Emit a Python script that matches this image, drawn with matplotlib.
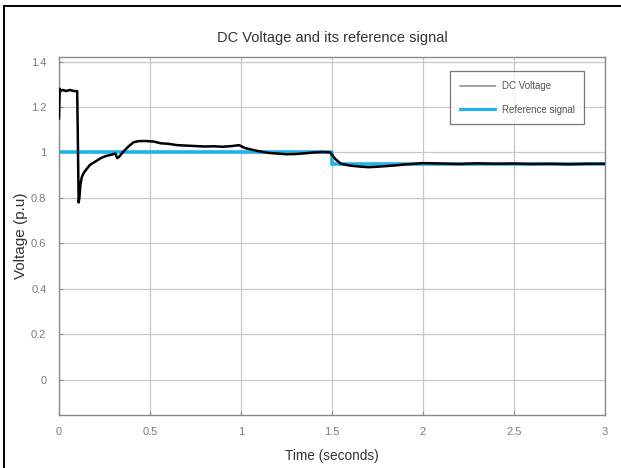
import matplotlib
matplotlib.use("Agg")
import matplotlib.pyplot as plt
from matplotlib.lines import Line2D

# DC link voltage (p.u.) versus time (s)
t_dc = [0.0, 0.004, 0.008, 0.02, 0.04, 0.06, 0.08, 0.1, 0.103, 0.108, 0.112,
        0.118, 0.125, 0.13, 0.14, 0.15, 0.17, 0.2, 0.23, 0.26, 0.29, 0.31,
        0.32, 0.33, 0.35, 0.38, 0.41, 0.44, 0.48, 0.52, 0.56, 0.6, 0.65,
        0.7, 0.75, 0.8, 0.85, 0.9, 0.95, 0.99, 1.02, 1.06, 1.1, 1.15, 1.2,
        1.25, 1.3, 1.35, 1.4, 1.45, 1.49, 1.5, 1.505, 1.52, 1.55, 1.6,
        1.65, 1.7, 1.75, 1.8, 1.85, 1.9, 1.95, 2.0, 2.1, 2.2, 2.3, 2.4,
        2.5, 2.6, 2.7, 2.8, 2.9, 3.0]
v_dc = [1.15, 1.28, 1.27, 1.275, 1.27, 1.275, 1.27, 1.27, 1.1, 0.78, 0.80,
        0.86, 0.89, 0.90, 0.915, 0.925, 0.945, 0.96, 0.975, 0.985, 0.99, 0.995,
        0.975, 0.98, 1.0, 1.025, 1.045, 1.05, 1.05, 1.048, 1.04, 1.038, 1.032,
        1.03, 1.028, 1.026, 1.027, 1.025, 1.028, 1.032, 1.02, 1.012, 1.005, 0.998, 0.995,
        0.992, 0.993, 0.996, 1.0, 1.002, 1.0, 0.99, 0.985, 0.97, 0.95, 0.942,
        0.938, 0.935, 0.937, 0.94, 0.943, 0.947, 0.95, 0.953, 0.951, 0.949, 0.952, 0.95,
        0.951, 0.949, 0.95, 0.948, 0.95, 0.95]

# Reference signal (p.u.)
t_ref = [0.0, 1.5, 1.5, 3.0]
v_ref = [1.0, 1.0, 0.95, 0.95]

x_ticks = [0, 0.5, 1, 1.5, 2, 2.5, 3]
x_tick_labels = ["0", "0.5", "1", "1.5", "2", "2.5", "3"]
y_ticks = [0, 0.2, 0.4, 0.6, 0.8, 1.0, 1.2, 1.4]
y_tick_labels = ["0", "0.2", "0.4", "0.6", "0.8", "1", "1.2", "1.4"]

plt.rcParams["font.family"] = ["Liberation Sans", "DejaVu Sans"]

fig = plt.figure(figsize=(6.21, 4.68), dpi=100)
ax = fig.add_axes([0.095, 0.1133, 0.879, 0.765])

ref_color = "#1fb3e8"
ax.plot(t_ref, v_ref, color=ref_color, lw=2.6, zorder=3)
ax.plot(t_dc, v_dc, color="black", lw=1.8, zorder=4)

ax.set_xlim(0, 3)
ax.set_ylim(-0.155, 1.42)
ax.set_xticks(x_ticks)
ax.set_xticklabels(x_tick_labels)
ax.set_yticks(y_ticks)
ax.set_yticklabels(y_tick_labels)

ax.grid(True, color="#c8c8c8", lw=0.9)
ax.set_axisbelow(True)
for s in ax.spines.values():
    s.set_color("#8a8a8a")
    s.set_linewidth(1.0)
ax.tick_params(colors="#8a8a8a", labelcolor="#7a7a7a", labelsize=8,
               direction="in", length=3, pad=9)

ax.set_title("DC Voltage and its reference signal", fontsize=10.5, color="#333333", pad=11)
ax.set_xlabel("Time (seconds)", fontsize=9.8, color="#333333", labelpad=8)
ax.set_ylabel("Voltage (p.u)", fontsize=11, color="#333333", labelpad=2)

handles = [Line2D([], [], color="#9a9090", lw=1.2),
           Line2D([], [], color=ref_color, lw=2.2)]
leg = ax.legend(handles, ["DC Voltage", "Reference signal"], loc="upper right",
                bbox_to_anchor=(0.962, 0.96), fontsize=7, frameon=True,
                fancybox=False, handlelength=3.6, borderpad=1.0, labelspacing=1.4,
                handletextpad=0.7, borderaxespad=0)
leg.get_frame().set_edgecolor("#555555")
leg.get_frame().set_linewidth(0.9)
for txt in leg.get_texts():
    txt.set_color("#555555")

# figure border (top and left edges)
fig.add_artist(Line2D([0.0064, 1.0], [0.987, 0.987], transform=fig.transFigure,
                      color="black", lw=1.4))
fig.add_artist(Line2D([0.0064, 0.0064], [0.0, 0.987], transform=fig.transFigure,
                      color="black", lw=1.4))

fig.savefig("out.png", dpi=100)
